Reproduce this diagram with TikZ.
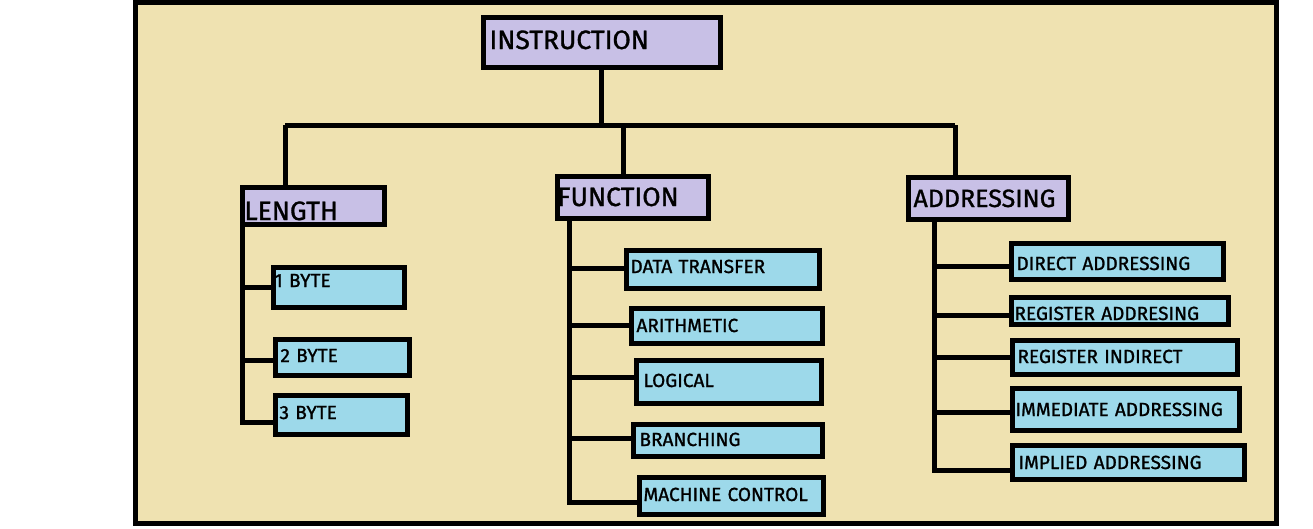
\documentclass[tikz,border=0pt]{standalone}
\usepackage{fontspec}
\setmainfont{Fira Sans}
\newfontfamily\dinfont[FakeBold=1.2]{Fira Sans}
\definecolor{bgfill}{RGB}{239,226,177}
\definecolor{hdfill}{RGB}{200,192,230}
\definecolor{lffill}{RGB}{157,217,234}
% #1 style, #2 name, #3 x1, #4 y1, #5 x2, #6 y2 (outer edges), #7 text x, #8 baseline, #9 text
\newcommand\mybox[9]{%
  \pgfmathsetmacro\bxl{#3+2.5}%
  \pgfmathsetmacro\bxpad{#7-\bxl-1}%
  \pgfmathsetmacro\bxw{(#5-2.5)-\bxl-2*\bxpad}%
  \pgfmathsetmacro\bxh{#8-(#4+2.5)}%
  \pgfmathsetmacro\bxd{(#6-2.5)-#8}%
  \node[#1, anchor=base west, inner xsep=\bxpad pt, inner ysep=0pt, outer sep=2.5pt,
        text width=\bxw pt, align=left, text height=\bxh pt, text depth=\bxd pt]
        (#2) at (\bxl,#8) {\mbox{#9}};}
\newcommand\mybranch[3]{\draw[conn] (#1 |- 0,#3) -- (#2.west |- 0,#3);}
\begin{document}
\begin{tikzpicture}[x=1pt,y=-1pt,
  hd/.style={draw=black, fill=hdfill, line width=5pt, font=\dinfont\fontsize{26.5}{28}\selectfont},
  lf/.style={draw=black, fill=lffill, line width=5pt, font=\dinfont\fontsize{19}{21}\selectfont},
  conn/.style={draw=black, line width=5pt, line join=miter}]
\useasboundingbox (0,0) rectangle (1313,528);
\draw[line width=5pt, fill=bgfill] (135.5,2) rectangle (1276.5,523.5);

% top level
\mybox{hd}{instr}{478}{15}{720}{70}{488}{49}{INSTRUCTION}
% second level
\mybox{hd}{len}{237}{185}{384}{227}{243}{220}{LENGTH}
\mybox{hd}{fun}{552}{174}{708}{221}{556}{206}{FUNCTION}
\mybox{hd}{addr}{903}{175}{1068}{222}{912}{207}{\fontsize{25}{27}\selectfont ADDRESSING}
% length leaves
\mybox{lf}{b1}{268}{265}{404}{310}{273}{287}{1 BYTE}
\mybox{lf}{b2}{270}{337}{409}{378}{279}{362}{2 BYTE}
\mybox{lf}{b3}{270}{393}{407}{437}{278}{419}{3 BYTE}
% function leaves
\mybox{lf}{f1}{621}{248}{819}{291}{629}{273}{DATA TRANSFER}
\mybox{lf}{f2}{626}{306}{822}{346}{635}{332}{ARITHMETIC}
\mybox{lf}{f3}{631}{358}{821}{406}{642}{387}{LOGICAL}
\mybox{lf}{f4}{628}{422}{822}{459}{638}{446}{BRANCHING}
\mybox{lf}{f5}{634}{475}{823}{517}{642}{501}{MACHINE CONTROL}
% addressing leaves
\mybox{lf}{a1}{1006}{241}{1223}{282}{1015}{270}{DIRECT ADDRESSING}
\mybox{lf}{a2}{1006}{295}{1228}{327}{1013}{320}{REGISTER ADDRESING}
\mybox{lf}{a3}{1007}{338}{1237}{377}{1016}{363}{REGISTER INDIRECT}
\mybox{lf}{a4}{1007}{386}{1239}{433}{1014}{416}{IMMEDIATE ADDRESSING}
\mybox{lf}{a5}{1007}{443}{1244}{482}{1017}{469}{IMPLIED ADDRESSING}

% top connectors
\coordinate (j) at (601,125);
\coordinate (jL) at (285,125);
\coordinate (jM) at (623,125);
\coordinate (jR) at (955,125);
\draw[conn] (instr.south -| j) -- (j);
\draw[conn] (jL) -- (jR);
\draw[conn] (jL) -- (jL |- len.north);
\draw[conn] (jM) -- (jM |- fun.north);
\draw[conn] (jR) -- (jR |- addr.north);

% length trunk
\coordinate (tL) at (242,422);
\draw[conn] (len.south -| tL) -- (tL) -- (tL -| b3.west);
\mybranch{tL}{b1}{287}
\mybranch{tL}{b2}{360}

% function trunk
\coordinate (tF) at (569,502);
\draw[conn] (fun.south -| tF) -- (tF) -- (tF -| f5.west);
\mybranch{tF}{f1}{268}
\mybranch{tF}{f2}{325}
\mybranch{tF}{f3}{377}
\mybranch{tF}{f4}{438}

% addressing trunk
\coordinate (tA) at (934,470);
\draw[conn] (addr.south -| tA) -- (tA) -- (tA -| a5.west);
\mybranch{tA}{a1}{266}
\mybranch{tA}{a2}{315}
\mybranch{tA}{a3}{357}
\mybranch{tA}{a4}{412}
\end{tikzpicture}
\end{document}
